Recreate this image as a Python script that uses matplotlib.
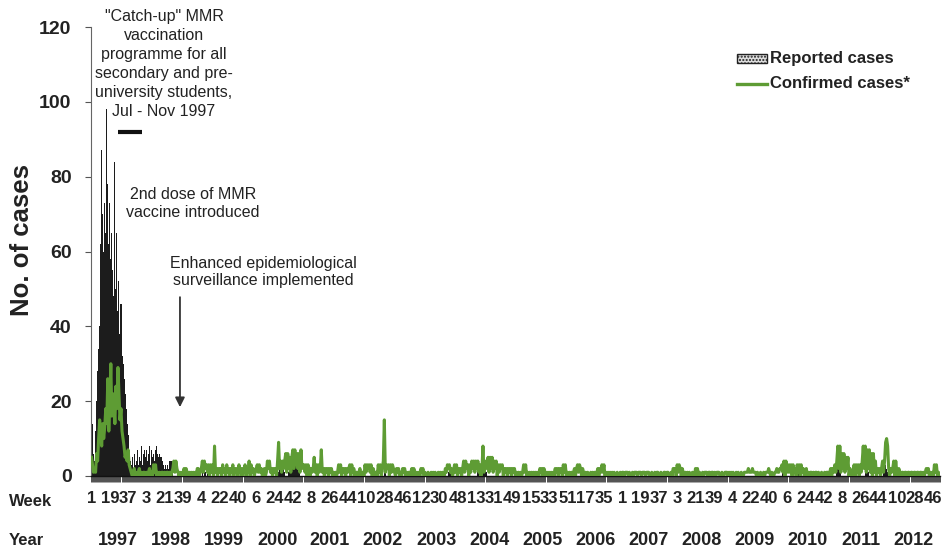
import numpy as np
import matplotlib
matplotlib.use('Agg')
import matplotlib.pyplot as plt
from matplotlib.patches import Rectangle
from matplotlib.lines import Line2D
import matplotlib.transforms as mtrans

plt.rcParams['font.family'] = ['Liberation Sans', 'DejaVu Sans']

# ---------------- data ----------------
years = [1997, 1998, 1999, 2000, 2001, 2002, 2003, 2004,
         2005, 2006, 2007, 2008, 2009, 2010, 2011, 2012]
weeks_in_year = [52, 53, 52, 52, 52, 52, 53, 52, 52, 52, 52, 53, 52, 52, 52, 52]

# Reported cases (weekly)
reported_1997 = [16, 14, 6, 4, 12, 20, 28, 34, 40, 62, 87, 70, 60,
                 73, 65, 98, 78, 62, 73, 58, 65, 55, 48, 84, 50, 65,
                 44, 52, 38, 46, 32, 30, 26, 22, 18, 14, 11, 6, 4,
                 3, 5, 2, 6, 3, 4, 7, 3, 5, 4, 8, 3, 6]
reported_1998 = [7, 5, 7, 4, 6, 8, 3, 7, 5, 6, 4, 7, 8,
                 6, 5, 6, 5, 5, 4, 3, 2, 3, 2, 3, 2, 4,
                 4, 4, 4, 0, 0, 0, 0, 0, 0, 0, 0, 0, 0,
                 0, 0, 0, 0, 0, 0, 0, 0, 0, 0, 0, 0, 0, 0]
reported_1999 = [0, 0, 0, 0, 1, 0, 1, 1, 0, 1, 0, 1, 1,
                 0, 1, 1, 0, 0, 0, 0, 0, 0, 0, 0, 0, 0,
                 0, 0, 0, 0, 0, 0, 0, 0, 0, 0, 0, 0, 0,
                 0, 0, 0, 0, 0, 0, 0, 0, 0, 0, 0, 0, 0]
reported_2000 = [0, 0, 0, 0, 0, 0, 0, 0, 0, 0, 0, 0, 0,
                 0, 0, 0, 0, 0, 0, 0, 0, 0, 0, 0, 0, 0,
                 0, 1, 3, 3, 3, 2, 3, 1, 0, 0, 0, 1, 2,
                 2, 3, 4, 4, 5, 5, 4, 3, 2, 1, 0, 0, 0]
reported_2001 = [0, 0, 0, 0, 0, 0, 0, 0, 0, 0, 0, 0, 0,
                 0, 0, 0, 0, 0, 0, 0, 0, 0, 0, 0, 0, 0,
                 0, 0, 0, 0, 0, 0, 0, 0, 0, 0, 0, 0, 0,
                 0, 0, 0, 0, 0, 0, 0, 0, 0, 0, 0, 0, 0]
reported_2002 = [0, 0, 0, 0, 0, 0, 0, 0, 0, 0, 0, 0, 0,
                 0, 0, 0, 0, 0, 0, 0, 0, 0, 0, 0, 0, 0,
                 0, 1, 1, 0, 0, 0, 0, 0, 0, 0, 0, 0, 0,
                 0, 0, 0, 0, 0, 0, 0, 0, 0, 0, 0, 0, 0]
reported_2003 = [0, 0, 0, 0, 0, 0, 0, 0, 0, 0, 0, 0, 0,
                 0, 0, 0, 0, 0, 0, 0, 0, 0, 0, 0, 0, 0,
                 0, 0, 0, 0, 0, 0, 0, 0, 0, 0, 0, 0, 1,
                 1, 1, 0, 0, 0, 0, 0, 1, 1, 1, 0, 0, 0, 0]
reported_2004 = [0, 0, 0, 0, 0, 0, 0, 0, 0, 0, 0, 0, 0,
                 0, 1, 1, 1, 1, 1, 1, 1, 1, 1, 0, 0, 0,
                 0, 0, 0, 0, 0, 0, 0, 0, 0, 0, 0, 0, 0,
                 0, 0, 0, 0, 0, 0, 0, 0, 0, 0, 0, 0, 0]
reported_2005 = [0, 0, 0, 0, 0, 0, 0, 0, 0, 0, 0, 0, 0,
                 0, 0, 0, 0, 0, 0, 0, 0, 0, 0, 0, 0, 0,
                 0, 0, 0, 0, 0, 0, 0, 0, 0, 0, 0, 0, 0,
                 0, 0, 0, 0, 0, 0, 0, 0, 0, 0, 0, 0, 0]
reported_2006 = [0, 0, 0, 0, 0, 0, 1, 0, 0, 0, 0, 0, 0,
                 0, 0, 0, 0, 0, 0, 0, 0, 0, 0, 0, 0, 0,
                 0, 0, 0, 0, 0, 0, 0, 0, 0, 0, 0, 0, 0,
                 0, 0, 0, 0, 0, 0, 0, 0, 0, 0, 0, 0, 0]
reported_2007 = [0, 0, 0, 0, 0, 0, 0, 0, 0, 0, 0, 0, 0,
                 0, 0, 0, 0, 0, 0, 0, 0, 0, 0, 0, 0, 0,
                 0, 0, 0, 0, 0, 0, 0, 0, 0, 0, 0, 0, 0,
                 0, 0, 0, 0, 0, 0, 0, 0, 0, 0, 0, 0, 0]
reported_2008 = [0, 0, 0, 0, 0, 0, 0, 0, 0, 0, 0, 0, 0,
                 0, 0, 0, 0, 0, 0, 0, 0, 0, 0, 0, 0, 0,
                 0, 0, 0, 0, 0, 0, 0, 0, 0, 0, 0, 0, 0,
                 0, 0, 0, 0, 0, 0, 0, 0, 0, 0, 0, 0, 0, 0]
reported_2009 = [0, 0, 0, 0, 0, 0, 0, 0, 0, 0, 0, 0, 0,
                 0, 0, 0, 0, 0, 0, 0, 0, 0, 0, 0, 0, 0,
                 0, 0, 0, 0, 0, 0, 0, 0, 0, 0, 0, 0, 0,
                 0, 0, 0, 0, 0, 0, 0, 0, 0, 0, 0, 0, 0]
reported_2010 = [0, 1, 1, 1, 1, 0, 0, 0, 0, 0, 0, 0, 0,
                 0, 1, 2, 3, 2, 1, 0, 0, 0, 0, 0, 0, 0,
                 0, 0, 0, 0, 0, 0, 0, 0, 0, 0, 0, 0, 0,
                 0, 0, 0, 0, 0, 0, 0, 0, 0, 0, 0, 0, 0]
reported_2011 = [0, 0, 1, 3, 4, 2, 1, 0, 0, 0, 0, 0, 0,
                 0, 0, 0, 0, 0, 0, 1, 0, 0, 0, 0, 0, 0,
                 0, 0, 0, 0, 1, 1, 1, 1, 0, 0, 0, 0, 0,
                 0, 0, 0, 0, 0, 0, 0, 0, 0, 1, 5, 3, 2]
reported_2012 = [1, 1, 0, 0, 0, 0, 0, 0, 0, 0, 0, 0, 0,
                 0, 0, 0, 0, 0, 0, 0, 0, 0, 0, 0, 0, 0,
                 0, 0, 0, 0, 0, 0, 0, 0, 0, 0, 0, 0, 0,
                 0, 0, 0, 0, 0, 1, 0, 0, 0, 0, 0, 0, 0]

# Confirmed cases (weekly)
confirmed_1997 = [5, 3, 1, 2, 1, 6, 4, 10, 15, 12, 8, 14, 10,
                  13, 18, 14, 26, 12, 20, 30, 16, 22, 19, 14, 24, 18,
                  29, 22, 15, 18, 12, 10, 8, 5, 6, 4, 7, 3, 2,
                  1, 0, 1, 2, 0, 1, 0, 1, 2, 0, 1, 0, 1]
confirmed_1998 = [1, 0, 1, 0, 1, 2, 0, 1, 0, 3, 1, 3, 0,
                  1, 0, 1, 0, 1, 1, 0, 1, 0, 1, 1, 0, 1,
                  0, 1, 2, 4, 1, 4, 2, 1, 0, 1, 0, 1, 0,
                  2, 0, 2, 1, 0, 1, 0, 1, 0, 1, 0, 1, 0, 2]
confirmed_1999 = [2, 0, 1, 2, 4, 1, 4, 2, 3, 1, 3, 0, 3,
                  1, 3, 0, 8, 1, 2, 0, 2, 1, 2, 0, 3, 1,
                  2, 0, 3, 1, 2, 0, 2, 1, 3, 0, 2, 1, 2,
                  0, 3, 1, 2, 0, 2, 1, 3, 0, 2, 1, 4, 0]
confirmed_2000 = [3, 1, 2, 0, 1, 2, 3, 1, 3, 1, 2, 0, 1,
                  2, 0, 1, 4, 2, 4, 1, 2, 0, 2, 1, 2, 0,
                  4, 9, 2, 4, 1, 4, 2, 4, 6, 1, 6, 2, 5,
                  1, 5, 7, 2, 7, 3, 6, 2, 6, 1, 7, 2, 3]
confirmed_2001 = [3, 1, 3, 0, 3, 2, 0, 2, 1, 2, 5, 1, 3,
                  0, 3, 1, 2, 7, 1, 2, 0, 2, 1, 2, 0, 2,
                  1, 2, 0, 1, 0, 1, 0, 1, 3, 1, 3, 0, 2,
                  1, 2, 0, 2, 1, 2, 3, 0, 3, 1, 2, 0, 1]
confirmed_2002 = [1, 0, 1, 2, 0, 1, 1, 0, 3, 1, 3, 2, 3,
                  1, 3, 0, 2, 1, 0, 1, 0, 3, 1, 3, 0, 2,
                  4, 15, 1, 3, 2, 3, 0, 3, 1, 3, 2, 1, 0,
                  2, 1, 2, 0, 1, 0, 2, 1, 2, 0, 1, 0, 1]
confirmed_2003 = [0, 1, 2, 0, 2, 1, 0, 1, 0, 1, 0, 2, 1,
                  2, 0, 1, 0, 0, 1, 0, 0, 1, 0, 1, 0, 1,
                  0, 0, 1, 0, 1, 0, 1, 0, 0, 2, 1, 3, 2,
                  3, 1, 2, 0, 1, 3, 1, 3, 0, 2, 1, 2, 0, 2]
confirmed_2004 = [4, 1, 4, 2, 3, 0, 3, 1, 4, 2, 4, 1, 4,
                  2, 4, 1, 3, 0, 2, 8, 1, 4, 2, 3, 5, 1,
                  5, 2, 5, 1, 4, 2, 4, 0, 3, 1, 3, 2, 3,
                  0, 2, 1, 2, 0, 2, 1, 2, 0, 2, 1, 2, 0]
confirmed_2005 = [1, 0, 1, 0, 1, 0, 1, 3, 1, 3, 0, 1, 0,
                  1, 0, 1, 0, 1, 0, 1, 0, 1, 0, 2, 1, 2,
                  0, 2, 1, 0, 1, 0, 1, 0, 1, 0, 1, 0, 2,
                  1, 2, 0, 2, 1, 2, 0, 3, 1, 3, 0, 1, 0]
confirmed_2006 = [1, 0, 1, 0, 1, 2, 0, 2, 3, 1, 3, 2, 0,
                  2, 1, 0, 1, 0, 1, 0, 0, 1, 0, 1, 0, 1,
                  0, 1, 2, 0, 2, 1, 3, 1, 3, 0, 1, 0, 1,
                  0, 1, 0, 1, 0, 1, 0, 0, 1, 0, 0, 1, 0]
confirmed_2007 = [1, 1, 0, 1, 1, 1, 0, 1, 0, 0, 1, 0, 1,
                  1, 1, 0, 1, 1, 1, 0, 1, 1, 1, 0, 1, 1,
                  1, 0, 0, 1, 0, 0, 1, 0, 1, 1, 0, 0, 1,
                  0, 0, 1, 1, 0, 1, 1, 0, 0, 1, 0, 2, 2]
confirmed_2008 = [2, 0, 3, 1, 3, 2, 0, 2, 1, 0, 1, 0, 1,
                  0, 1, 0, 0, 1, 0, 0, 2, 0, 2, 0, 1, 0,
                  0, 1, 0, 1, 1, 1, 0, 1, 1, 0, 1, 1, 0,
                  1, 0, 1, 1, 1, 0, 0, 1, 0, 0, 1, 1, 1, 0]
confirmed_2009 = [1, 0, 1, 0, 1, 0, 0, 1, 0, 1, 0, 0, 1,
                  0, 0, 1, 1, 1, 1, 2, 1, 1, 1, 2, 1, 1,
                  1, 0, 1, 0, 0, 1, 0, 0, 1, 0, 1, 1, 1,
                  2, 1, 0, 1, 0, 0, 1, 1, 2, 1, 1, 2, 2]
confirmed_2010 = [3, 1, 4, 0, 4, 2, 1, 3, 1, 3, 0, 3, 1,
                  2, 0, 3, 1, 3, 0, 3, 1, 2, 0, 1, 2, 0,
                  1, 0, 1, 1, 0, 1, 0, 1, 1, 0, 1, 0, 0,
                  1, 0, 0, 1, 0, 1, 1, 0, 1, 2, 0, 2, 1]
confirmed_2011 = [3, 1, 4, 8, 2, 8, 1, 6, 2, 6, 1, 5, 2,
                  5, 0, 2, 1, 0, 1, 3, 0, 3, 1, 3, 0, 3,
                  1, 4, 8, 2, 8, 1, 7, 2, 7, 1, 6, 0, 6,
                  1, 4, 0, 2, 1, 2, 0, 2, 4, 1, 4, 9, 10]
confirmed_2012 = [8, 2, 0, 2, 1, 2, 4, 0, 4, 1, 0, 2, 1,
                  0, 1, 1, 0, 1, 1, 0, 1, 1, 0, 1, 1, 0,
                  1, 1, 0, 1, 1, 0, 1, 1, 0, 1, 0, 1, 2,
                  1, 2, 0, 1, 0, 1, 0, 3, 1, 3, 0, 1, 0]

reported_by_year = [reported_1997, reported_1998, reported_1999, reported_2000,
                    reported_2001, reported_2002, reported_2003, reported_2004,
                    reported_2005, reported_2006, reported_2007, reported_2008,
                    reported_2009, reported_2010, reported_2011, reported_2012]
confirmed_by_year = [confirmed_1997, confirmed_1998, confirmed_1999, confirmed_2000,
                     confirmed_2001, confirmed_2002, confirmed_2003, confirmed_2004,
                     confirmed_2005, confirmed_2006, confirmed_2007, confirmed_2008,
                     confirmed_2009, confirmed_2010, confirmed_2011, confirmed_2012]

reported = np.concatenate(reported_by_year)
confirmed = np.concatenate(confirmed_by_year)
week_no = np.concatenate([np.arange(1, n + 1) for n in weeks_in_year])
x = np.arange(len(week_no))

# ---------------- figure ----------------
W, H = 946, 551
GREEN = '#5e9c34'
TXT = '#222222'

fig = plt.figure(figsize=(W / 100, H / 100), dpi=100)
ax = fig.add_axes([91 / W, (H - 476) / H, 849 / W, 449 / H])

ax.bar(x, reported, width=1.0, color='#1c1c1c', linewidth=0,
       antialiased=False, zorder=2)
ax.plot(x, confirmed, color=GREEN, lw=2.2, zorder=3)

ax.set_xlim(-0.5, len(x) - 0.5)
ax.set_ylim(0, 120)

for s in ['top', 'right']:
    ax.spines[s].set_visible(False)
ax.spines['left'].set_color('#666666')
ax.spines['left'].set_linewidth(0.8)
ax.spines['bottom'].set_color('#111111')
ax.spines['bottom'].set_linewidth(1.0)

# y axis
ax.set_yticks(range(0, 121, 20))
ax.tick_params(axis='y', length=4, width=0.8, color='#555555', pad=10,
               labelsize=14, labelcolor=TXT)
for lab in ax.get_yticklabels():
    lab.set_fontweight('bold')

# x axis: week labels every 18 weeks, tick at every week
label_pos = x[::18]
ax.set_xticks(label_pos, [str(week_no[i]) for i in label_pos])
ax.tick_params(axis='x', which='major', length=0, pad=10.5,
               labelsize=12, labelcolor=TXT)
for lab in ax.get_xticklabels():
    lab.set_fontweight('bold')
ax.set_xticks(np.arange(-0.5, len(x), 1), minor=True)
ax.tick_params(axis='x', which='minor', length=4, width=0.6, color='#333333')

# year labels
btrans = mtrans.blended_transform_factory(ax.transData, fig.transFigure)
starts = np.cumsum([0] + weeks_in_year[:-1])
for yr, st, n in zip(years, starts, weeks_in_year):
    ax.text(st + n / 2 - 0.5, 1 - 545 / H, str(yr), transform=btrans,
            ha='center', va='baseline', fontsize=13, fontweight='bold',
            color=TXT, clip_on=False)

fig.text(9 / W, 1 - 506 / H, 'Week', ha='left', va='baseline', fontsize=12,
         fontweight='bold', color=TXT)
fig.text(9 / W, 1 - 545 / H, 'Year', ha='left', va='baseline', fontsize=12,
         fontweight='bold', color=TXT)

fig.text(22 / W, 1 - 240 / H, 'No. of cases', rotation=90, ha='center',
         va='center', fontsize=18.5, fontweight='bold', color=TXT)

# annotations
ax.text(71.3, 110.1, '"Catch-up" MMR\nvaccination\nprogramme for all\nsecondary and pre-\n'
        'university students,\nJul - Nov 1997', ha='center', va='center',
        multialignment='center', fontsize=11.5, linespacing=1.32, color=TXT,
        clip_on=False, zorder=5)
ax.hlines(91.9, 26.1, 49.7, color='#111111', lw=3, zorder=5)
ax.text(99.8, 72.8, '2nd dose of MMR\nvaccine introduced', ha='center',
        va='center', multialignment='center', fontsize=11.5, linespacing=1.27,
        color=TXT, zorder=5)
ax.text(168.7, 54.5, 'Enhanced epidemiological\nsurveillance implemented',
        ha='center', va='center', multialignment='center', fontsize=11.5,
        linespacing=1.2, color=TXT, zorder=5)
ax.annotate('', xy=(87.0, 18.4), xytext=(87.0, 47.8),
            arrowprops=dict(arrowstyle='-|>', color='#333333', lw=1.3,
                            mutation_scale=14, shrinkA=0, shrinkB=0))

# legend (drawn manually)
fig.add_artist(Rectangle((737 / W, 1 - 63 / H), 30 / W, 9 / H,
                         transform=fig.transFigure, facecolor='#dddddd',
                         edgecolor='#222222', hatch='.....', lw=1))
fig.add_artist(Line2D([737 / W, 767 / W], [1 - 84 / H, 1 - 84 / H],
                      transform=fig.transFigure, color=GREEN, lw=2.4))
fig.text(770 / W, 1 - 58 / H, 'Reported cases', ha='left', va='center',
         fontsize=12, fontweight='bold', color=TXT)
fig.text(770 / W, 1 - 84 / H, 'Confirmed cases*', ha='left', va='center',
         fontsize=12, fontweight='bold', color=TXT)

fig.savefig('out.png', dpi=100)
